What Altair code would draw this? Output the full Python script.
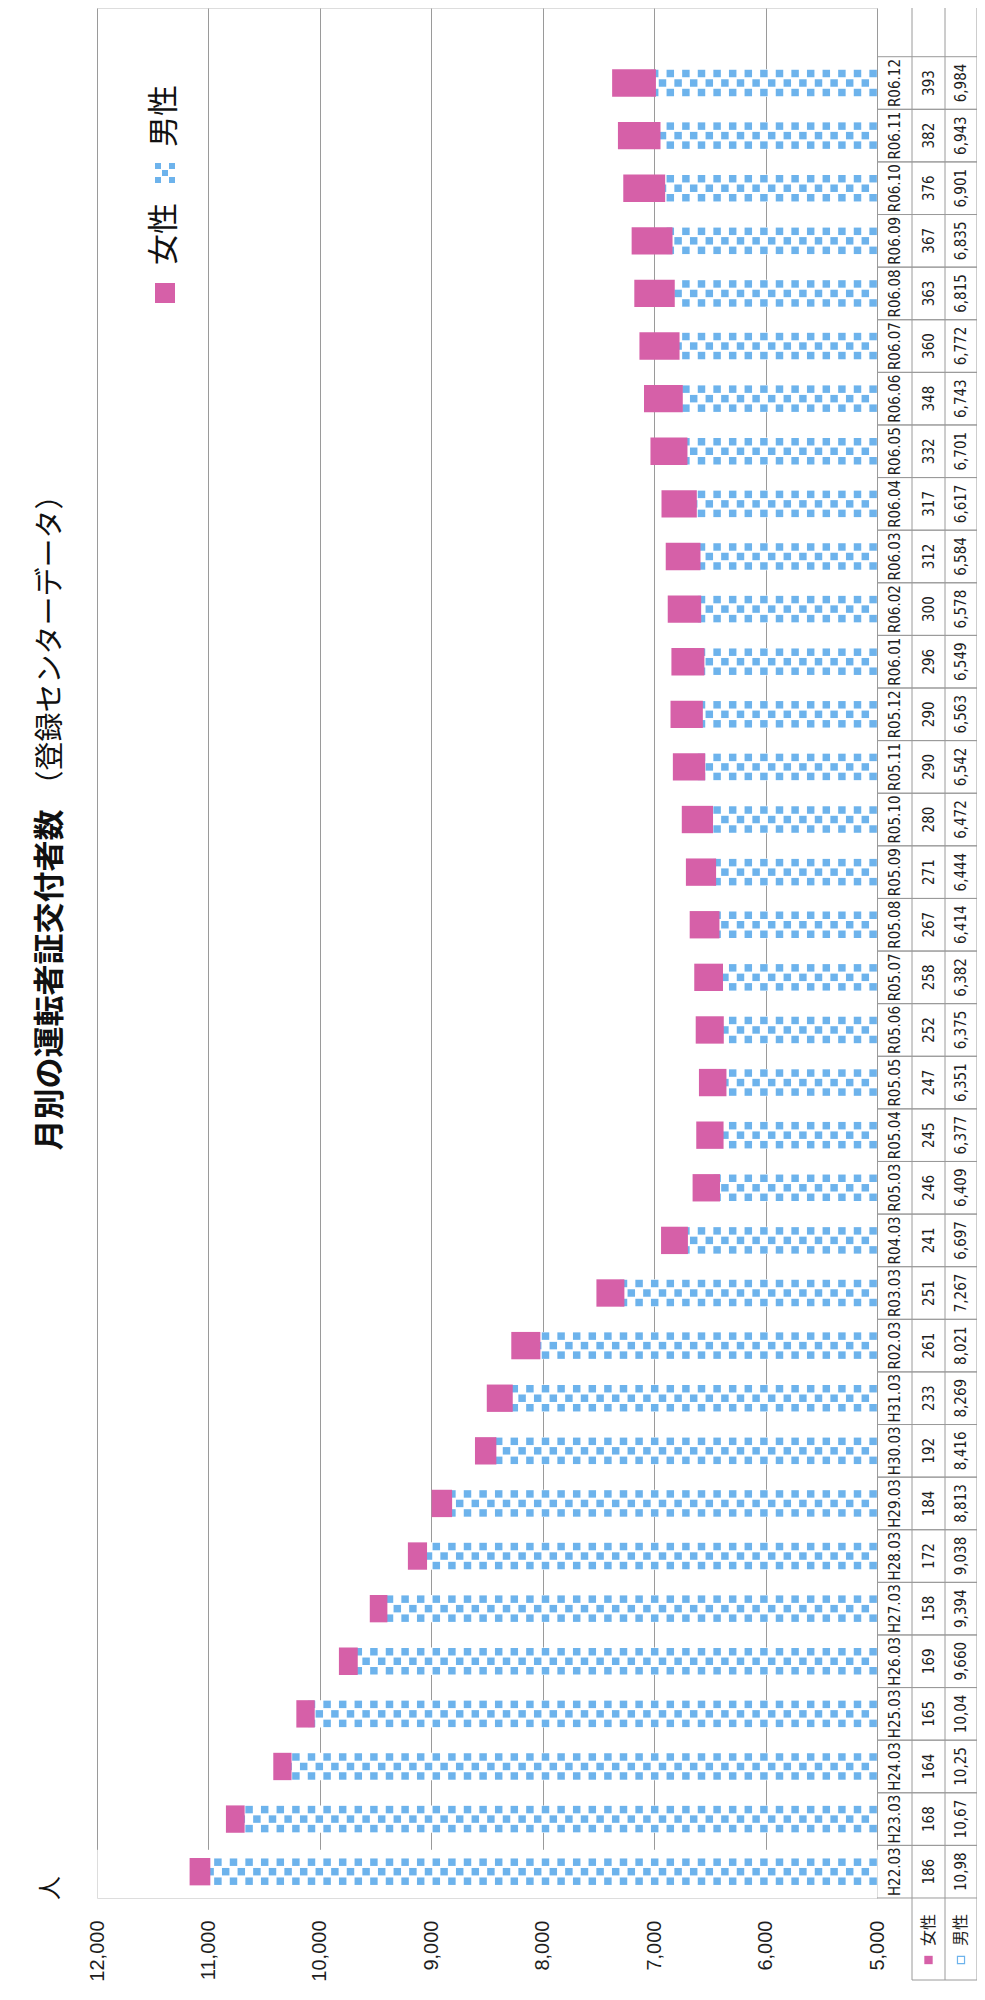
import altair as alt
import pandas as pd

# ---------------- data ----------------
categories = ["H22.03", "H23.03", "H24.03", "H25.03", "H26.03", "H27.03", "H28.03",
              "H29.03", "H30.03", "H31.03", "R02.03", "R03.03", "R04.03", "R05.03",
              "R05.04", "R05.05", "R05.06", "R05.07", "R05.08", "R05.09", "R05.10",
              "R05.11", "R05.12", "R06.01", "R06.02", "R06.03", "R06.04", "R06.05",
              "R06.06", "R06.07", "R06.08", "R06.09", "R06.10", "R06.11", "R06.12"]
female = [186, 168, 164, 165, 169, 158, 172, 184, 192, 233, 261, 251, 241, 246,
          245, 247, 252, 258, 267, 271, 280, 290, 290, 296, 300, 312, 317, 332,
          348, 360, 363, 367, 376, 382, 393]
male = [10983, 10675, 10254, 10046, 9660, 9394, 9038, 8813, 8416, 8269, 8021, 7267,
        6697, 6409, 6377, 6351, 6375, 6382, 6414, 6444, 6472, 6542, 6563, 6549,
        6578, 6584, 6617, 6701, 6743, 6772, 6815, 6835, 6901, 6943, 6984]
series = ["女性", "男性"]
value_ticks = [5000, 6000, 7000, 8000, 9000, 10000, 11000, 12000]
title_main = "月別の運転者証交付者数"
title_sub = "（登録センターデータ）"
unit_label = "人"

# ---------------- styling ----------------
PINK = "#D660A8"
BLUE = "#6DB3EC"
GRID = "#9a9a9a"
TXT = "#1e1e1e"
JP = "Noto Sans CJK JP"
NUM = "Liberation Sans"
NARROW = "Liberation Sans Narrow, DejaVu Sans Condensed, Liberation Sans"

W, H = 780, 1890
CELL = 70  # checker cell in data units

df = pd.DataFrame({"cat": categories, "female": female, "male": male})
legend_df = pd.DataFrame({"series": series})
cats_top = list(reversed(categories))

yenc = alt.Y("cat:N",
             scale=alt.Scale(domain=cats_top, range=[48.7, 1890],
                             paddingInner=0.48, paddingOuter=0.24),
             axis=None)
xscale = alt.Scale(domain=[5000, 12000], reverse=True, nice=False, zero=False)

base = alt.Chart(df)

male_bar = base.transform_calculate(base="5000").mark_bar(
    fill="white", stroke=None
).encode(
    x=alt.X("base:Q", scale=xscale,
            axis=alt.Axis(values=value_ticks, format=",.0f", labelAngle=270,
                          labelFont=NUM, labelFontSize=20, labelColor=TXT,
                          ticks=False, domain=False, grid=True,
                          gridColor=GRID, gridWidth=1, labelPadding=22,
                          title=None)),
    x2="male:Q",
    y=yenc,
)

chk = base.transform_calculate(
    seq=f"sequence(0, datum.male - 5000, {CELL})"
).transform_flatten(["seq"]).transform_calculate(
    k=f"floor(datum.seq / {CELL} + 0.5)",
    xc=f"5000 + datum.seq + {CELL / 2}",
)
even = chk.transform_filter("datum.k % 2 == 0")
odd = chk.transform_filter("datum.k % 2 == 1")
sq_kw = dict(size=56, color=BLUE, opacity=1, strokeWidth=0)
sq_top = even.mark_square(yOffset=-9.5, **sq_kw).encode(x="xc:Q", y=yenc)
sq_bot = even.mark_square(yOffset=9.5, **sq_kw).encode(x="xc:Q", y=yenc)
sq_mid = odd.mark_square(yOffset=0, **sq_kw).encode(x="xc:Q", y=yenc)

female_bar = base.transform_calculate(tot="datum.male + datum.female").mark_bar(
    color=PINK
).encode(x="male:Q", x2="tot:Q", y=yenc)

# ---------------- data table (right) ----------------
C1, C2, C3, C4 = 780, 815, 848, 880
HALF = 26.3
tline = dict(color=GRID, strokeWidth=1)
row_lines_b = base.mark_rule(yOffset=HALF, **tline).encode(
    y=yenc, x=alt.value(C1), x2=alt.value(C4))
row_lines_t = base.mark_rule(yOffset=-HALF, **tline).encode(
    y=yenc, x=alt.value(C1), x2=alt.value(C4))

one = alt.Chart(legend_df).transform_filter(f"datum.series == '{series[0]}'")
vlines = [
    one.mark_rule(**tline).encode(x=alt.value(cx), y=alt.value(0), y2=alt.value(1972))
    for cx in (C2, C3, C4)
]
hdr_bottom = one.mark_rule(**tline).encode(
    x=alt.value(C2), x2=alt.value(C4), y=alt.value(1972))

txt_kw = dict(angle=270, align="center", baseline="middle", color=TXT,
              font=NARROW, fontSize=15)
t_cat = base.mark_text(**txt_kw).encode(
    x=alt.value((C1 + C2) / 2), y=yenc, text="cat:N")
t_fem = base.mark_text(**txt_kw).encode(
    x=alt.value((C2 + C3) / 2), y=yenc, text="female:Q")
t_male = base.transform_calculate(
    lbl="substring(format(datum.male, ',.0f'), 0, 5)"
).mark_text(**txt_kw).encode(
    x=alt.value((C3 + C4) / 2), y=yenc, text="lbl:N")

# header cells
fem_s = alt.Chart(legend_df).transform_filter(f"datum.series == '{series[0]}'")
male_s = alt.Chart(legend_df).transform_filter(f"datum.series == '{series[1]}'")
hdr_kw = dict(angle=270, align="center", baseline="middle", color=TXT,
              font=JP, fontSize=16)
h_fem = fem_s.mark_text(**hdr_kw).encode(
    x=alt.value((C2 + C3) / 2), y=alt.value(1922), text="series:N")
h_fem_sq = fem_s.mark_square(size=70, color=PINK, opacity=1).encode(
    x=alt.value((C2 + C3) / 2), y=alt.value(1952))
h_male = male_s.mark_text(**hdr_kw).encode(
    x=alt.value((C3 + C4) / 2), y=alt.value(1922), text="series:N")
h_male_sq = male_s.mark_square(size=50, filled=False, color=BLUE, opacity=1,
                               strokeWidth=1.2).encode(
    x=alt.value((C3 + C4) / 2), y=alt.value(1952))

# ---------------- legend (inside plot) ----------------
checker_path = ("M-1,-1H-0.4V-0.4H-1Z M0.4,-1H1V-0.4H0.4Z M-0.3,-0.3H0.3V0.3H-0.3Z "
                "M-1,0.4H-0.4V1H-1Z M0.4,0.4H1V1H0.4Z")
leg_kw = dict(angle=270, align="center", baseline="middle", color="#111",
              font=JP, fontSize=31)
LX = 68
lg_fem_sq = fem_s.mark_square(size=400, color=PINK, opacity=1).encode(
    x=alt.value(LX), y=alt.value(285))
lg_fem = fem_s.mark_text(**leg_kw).encode(
    x=alt.value(LX), y=alt.value(226), text="series:N")
lg_male_sq = male_s.mark_point(shape=checker_path, size=400, filled=True,
                               color=BLUE, opacity=1).encode(
    x=alt.value(LX), y=alt.value(165))
lg_male = male_s.mark_text(**leg_kw).encode(
    x=alt.value(LX), y=alt.value(108), text="series:N")

# ---------------- title & unit ----------------
title_df = pd.DataFrame({"main": [title_main], "sub": [title_sub], "unit": [unit_label]})
tchart = alt.Chart(title_df)
t_main = tchart.mark_text(angle=270, align="center", baseline="middle", color="#111",
                          font=JP, fontSize=31, fontWeight="bold").encode(
    x=alt.value(-46), y=alt.value(972), text="main:N")
t_sub = tchart.mark_text(angle=270, align="center", baseline="middle", color="#111",
                         font=JP, fontSize=29).encode(
    x=alt.value(-46), y=alt.value(632), text="sub:N")
t_unit = tchart.mark_text(angle=270, align="center", baseline="middle", color="#111",
                          font=JP, fontSize=24).encode(
    x=alt.value(-46), y=alt.value(1880), text="unit:N")

chart = alt.layer(
    male_bar, sq_top, sq_bot, sq_mid, female_bar,
    row_lines_b, row_lines_t, *vlines, hdr_bottom,
    t_cat, t_fem, t_male,
    h_fem, h_fem_sq, h_male, h_male_sq,
    lg_fem_sq, lg_fem, lg_male_sq, lg_male,
    t_main, t_sub, t_unit,
).properties(
    width=W, height=H,
    autosize=alt.AutoSizeParams(type="none"),
    padding={"left": 89, "top": 0, "right": 100, "bottom": 86},
).configure_view(stroke=None).configure(background="white")

chart.save("out.html", embed_options={"renderer": "svg", "actions": False})
